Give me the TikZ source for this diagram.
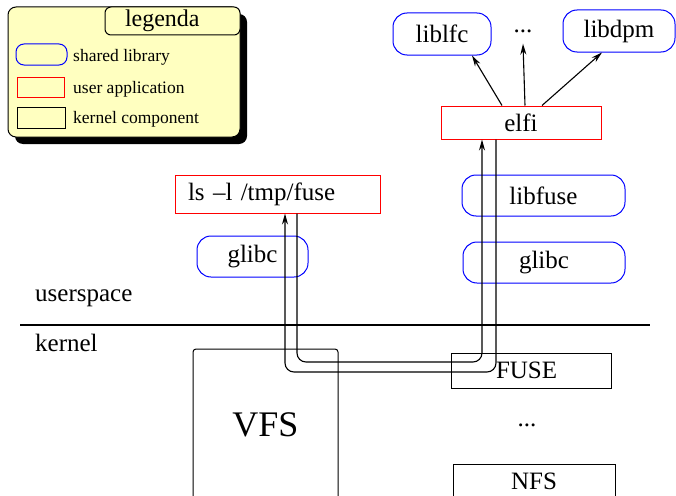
\documentclass[tikz,border=0pt]{standalone}
\usepackage{fontspec}
\setmainfont{Liberation Serif}
\usetikzlibrary{arrows.meta, shadows}

\definecolor{legendfill}{RGB}{255,255,192}

\begin{document}
\begin{tikzpicture}[x=1pt, y=-1pt,
      font=\fontsize{25}{30}\selectfont,
      lib/.style={draw=blue, rounded corners=14pt, line width=1pt, inner sep=0pt},
      app/.style={draw=red, line width=1pt, inner sep=0pt},
      kern/.style={draw, line width=1pt, inner sep=0pt},
      keytext/.style={font=\fontsize{17.5}{21}\selectfont, anchor=west, inner sep=0pt},
      arrow/.style={-{Stealth[length=11pt, width=6pt]}, line width=1.1pt},
      flow/.style={line width=1.2pt, rounded corners=9pt}
    ]
    \useasboundingbox (0,0) rectangle (676,495);

    % Legend
    \node[draw, line width=1pt, fill=legendfill, rounded corners=8pt, minimum width=232pt, minimum height=130pt,
          drop shadow={shadow xshift=7pt, shadow yshift=-7pt, fill=black, opacity=1}] (legend) at (124,72) {};
    \node[draw, line width=1pt, fill=legendfill, rounded corners=6pt, inner xsep=20pt, inner ysep=0pt,
          text width=95pt, align=left, minimum height=28pt,
          font=\fontsize{24}{28}\selectfont] (legtitle) at (172.5,21) {legenda};
    \node[lib, rounded corners=8pt, minimum width=51pt, minimum height=21pt] (keylib) at (41.5,54.5) {};
    \node[keytext] (keylibtxt) at (73,57) {shared library};
    \node[app, minimum width=47pt, minimum height=20pt] (keyapp) at (40.5,87) {};
    \node[keytext] (keyapptxt) at (73,89) {user application};
    \node[kern, minimum width=48pt, minimum height=21pt] (keykern) at (41,117.5) {};
    \node[keytext] (keykerntxt) at (73,119) {kernel component};

    % Userspace
    \node[lib, minimum width=98pt, minimum height=42pt] (liblfc) at (442,34) {liblfc};
    \node[inner xsep=0pt, inner ysep=11pt] (libdots) at (523,31) {...};
    \node[lib, minimum width=112pt, minimum height=42pt] (libdpm) at (619,31) {libdpm};
    \node[app, minimum width=160pt, minimum height=33pt] (elfi) at (521,122.5) {elfi};
    \node[app, inner xsep=13pt, text width=179pt, align=left, minimum height=38pt] (ls) at (277.5,194) {ls \textendash l /tmp/fuse};
    \node[lib, minimum width=111pt, minimum height=41pt] (glibcl) at (252.5,256.5) {glibc};
    \node[lib, minimum width=163pt, minimum height=41pt] (libfuse) at (543.5,195.5) {libfuse};
    \node[lib, minimum width=162pt, minimum height=41pt] (glibcr) at (544,262.5) {glibc};

    % Separator
    \node[anchor=west, inner sep=0pt] (user) at (35,298) {userspace};
    \draw[line width=1.6pt] (20,325) -- (650,325);
    \node[anchor=west, inner sep=0pt] (kernel) at (35,343) {kernel};

    % Kernel
    \node[kern, rounded corners=3pt, minimum width=145pt, minimum height=152pt,
          font=\fontsize{36}{42}\selectfont] (vfs) at (265.5,425) {VFS};
    \node[kern, inner xsep=45pt, text width=70pt, align=left, minimum height=35pt] (fuse) at (531,370.5) {FUSE};
    \node[inner sep=0pt] (kdots) at (527,425) {...};
    \node[kern, minimum width=162pt, minimum height=34pt] (nfs) at (534,481) {NFS};

    % Library calls
    \draw[arrow] ([xshift=-19pt]elfi.north) -- ([xshift=30pt]liblfc.south);
    \draw[arrow] ([xshift=4pt]elfi.north) -- (libdots.south);
    \draw[arrow] ([xshift=21pt]elfi.north) -- ([xshift=-17pt]libdpm.south);

    % Request and reply
    \coordinate (reqlow) at (0,362);
    \coordinate (replow) at (0,372);
    \coordinate (lsout) at ([xshift=19.5pt]ls.south);
    \coordinate (lsin) at ([xshift=7.5pt]ls.south);
    \coordinate (elfiin) at ([xshift=-39pt]elfi.south);
    \coordinate (elfiout) at ([xshift=-25pt]elfi.south);
    \draw[flow, arrow] (lsout) -- (lsout |- reqlow) -- (elfiin |- reqlow) -- (elfiin);
    \draw[flow, arrow] (elfiout) -- (elfiout |- replow) -- (lsin |- replow) -- (lsin);
  \end{tikzpicture}
\end{document}
